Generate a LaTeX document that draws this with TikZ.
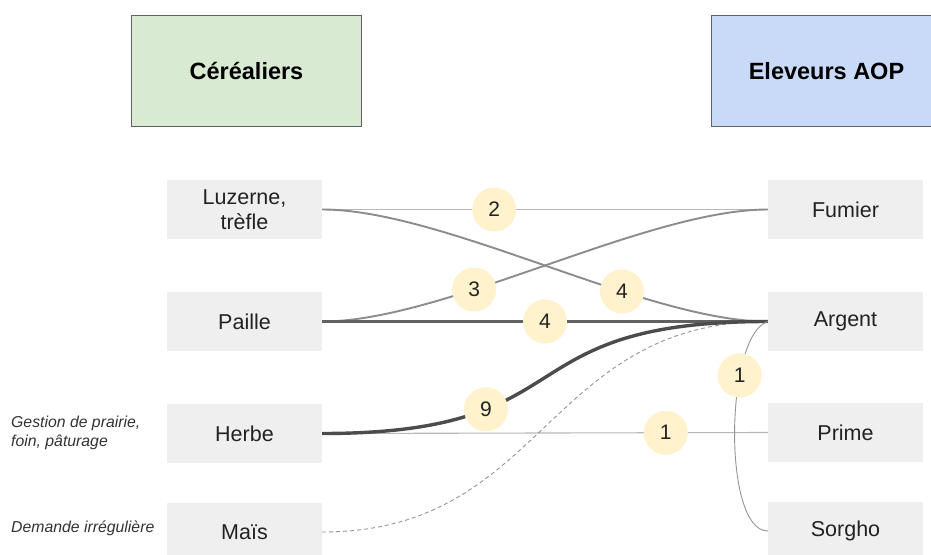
\documentclass[tikz,border=0pt]{standalone}
\usepackage{fontspec}
\setmainfont{Liberation Sans}
\definecolor{hdrgreen}{HTML}{D9EAD3}
\definecolor{hdrblue}{HTML}{C9DAF8}
\definecolor{boxgray}{HTML}{EFEFEF}
\definecolor{numfill}{HTML}{FFF2CC}
\definecolor{txt}{HTML}{222222}
\begin{document}
\begin{tikzpicture}[x=1pt,y=-1pt,
  header/.style={draw=black!62, line width=1.6pt, minimum width=230pt, minimum height=111pt,
    font=\fontsize{23.5}{26}\selectfont\bfseries, inner sep=0, text=black},
  item/.style={fill=boxgray, minimum width=155pt, minimum height=59pt,
    font=\fontsize{21.5}{25}\selectfont, align=center, inner sep=0, text=txt},
  num/.style={circle, fill=numfill, minimum size=44pt, inner sep=0,
    font=\fontsize{21}{21}\selectfont, text=txt},
  note/.style={font=\itshape\fontsize{15.8}{19.5}\selectfont, align=left, anchor=west,
    inner sep=0, text=black!80},
]
\useasboundingbox (0,0) rectangle (931,554);
\clip (0,0) rectangle (931,554);
\fill[white] (0,0) rectangle (931,554);

% headers
\node[header, fill=hdrgreen] (cer) at (246.5,71) {Céréaliers};
\node[header, fill=hdrblue] (ele) at (826.5,71) {Eleveurs AOP};

% left items
\node[item] (luz) at (244.5,209.5) {Luzerne,\\trèfle};
\node[item] (pai) at (244.5,321.5) {Paille};
\node[item] (her) at (244.5,433.5) {Herbe};
\node[item] (mai) at (244.5,532) {Maïs};

% right items
\node[item] (fum) at (845.5,209.5) {Fumier};
\node[item] (arg) at (845.5,321.5) {Argent};
\node[item] (pri) at (845.5,432.5) {Prime};
\node[item] (sor) at (845.5,531) {Sorgho};

% notes
\node[note] (n1) at (11,433) {Gestion de prairie,\\foin, pâturage};
\node[note] (n2) at (11,528) {Demande irrégulière};

% connectors
\draw[black!28, line width=1.1pt] (luz.east) -- node[num, pos=0.386] (c2) {2} (fum.west);
\draw[black!28, line width=1.1pt] (her.east) -- node[num, pos=0.771] (c1a) {1} (pri.west);
\draw[black!45, line width=1.9pt] (luz.east) .. controls (444,209.5) and (646,321.5) .. node[num, pos=0.66] (c4a) {4} (arg.west);
\draw[black!45, line width=1.9pt] (pai.east) .. controls (444,321.5) and (646,209.5) .. node[num, pos=0.353] (c3) {3} (fum.west);
\draw[black!62, line width=2.4pt] (pai.east) -- node[num, pos=0.5] (c4b) {4} (arg.west);
\draw[black!42, line width=0.9pt, dash pattern=on 4pt off 3pt] (mai.east) .. controls (545,532) and (545,321.5) .. (arg.west);
\draw[black!70, line width=3.4pt] (her.east) .. controls (590,433.5) and (500,321.5) .. node[num, pos=0.3] (c9) {9} (arg.west);
\draw[black!42, line width=0.9pt] (arg.west) .. controls (725,335) and (722,531) .. node[num, pos=0.31] (c1b) {1} (sor.west);
\end{tikzpicture}
\end{document}
